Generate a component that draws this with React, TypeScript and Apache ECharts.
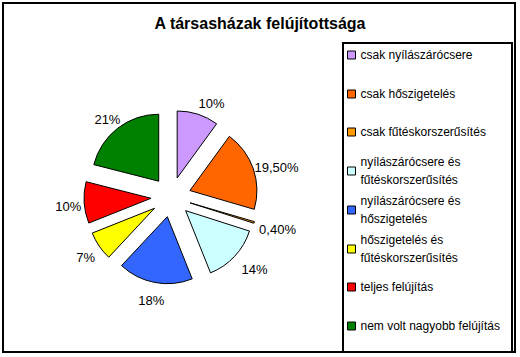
import React, { useEffect, useRef } from 'react';
import * as echarts from 'echarts';

const titleText = 'A társasházak felújítottsága';
const categories = [
  'csak nyílászárócsere',
  'csak hőszigetelés',
  'csak fűtéskorszerűsítés',
  'nyílászárócsere és\nfűtéskorszerűsítés',
  'nyílászárócsere és\nhőszigetelés',
  'hőszigetelés és\nfűtéskorszerűsítés',
  'teljes felújítás',
  'nem volt nagyobb felújítás',
];
const values = [10, 19.5, 0.4, 14, 18, 7, 10, 21];
const valueLabels = ['10%', '19,50%', '0,40%', '14%', '18%', '7%', '10%', '21%'];
const colors = ['#CC99FF', '#FF6600', '#FF9900', '#CCFFFF', '#3366FF', '#FFFF00', '#FF0000', '#008000'];

const FONT = '"Liberation Sans", Arial, sans-serif';

export default function App() {
  const ref = useRef<HTMLDivElement>(null);
  useEffect(() => {
    if (!ref.current) return;
    const chart = echarts.init(ref.current, undefined, { renderer: 'svg' });
    const legends = categories.map((name, i) => {
      const twoLine = name.includes('\n');
      const cy = 55 + i * 38.7;
      return {
        data: [{ name, textStyle: twoLine ? { padding: [18, 0, 0, 0] } : {} }],
        orient: 'vertical',
        left: 347,
        top: Math.round(cy - (twoLine ? 27 : 9)),
        padding: 0,
        itemWidth: 8,
        itemHeight: 8,
        icon: 'rect',
        selectedMode: false,
        textStyle: { fontSize: 12, lineHeight: 18, color: '#000', fontFamily: FONT },
        itemStyle: { borderColor: '#000', borderWidth: 1 },
      };
    });
    chart.setOption({
      animation: false,
      backgroundColor: '#fff',
      title: {
        text: titleText,
        left: 'center',
        top: 15,
        padding: 0,
        textStyle: { fontSize: 16, fontWeight: 'bold', color: '#000', fontFamily: FONT },
      },
      legend: legends,
      graphic: [
        { type: 'rect', shape: { x: 3, y: 3, width: 512, height: 349 }, style: { fill: 'none', stroke: '#000', lineWidth: 2 }, silent: true },
        { type: 'rect', shape: { x: 343, y: 43, width: 169, height: 309 }, style: { fill: 'none', stroke: '#000', lineWidth: 2 }, silent: true },
      ],
      series: [
        {
          type: 'pie',
          center: [171, 197],
          radius: 67,
          startAngle: 90,
          clockwise: true,
          selectedMode: 'multiple',
          selectedOffset: 20,
          avoidLabelOverlap: false,
          emphasis: { disabled: true },
          itemStyle: { borderColor: '#000', borderWidth: 1 },
          label: {
            show: true,
            position: 'outside',
            formatter: (p: any) => valueLabels[p.dataIndex],
            fontSize: 13,
            color: '#000',
            fontFamily: FONT,
          },
          labelLine: { show: false, length: 15, length2: 0 },
          labelLayout: { align: 'center', dx: 4, dy: 3 },
          data: values.map((v, i) => ({
            value: v,
            name: categories[i],
            selected: true,
            itemStyle: { color: colors[i] },
            select: { itemStyle: { color: colors[i], borderColor: '#000', borderWidth: 1 } },
          })),
        },
      ],
    });
    return () => chart.dispose();
  }, []);
  return (
    <div
      ref={ref}
      style={{ position: 'absolute', left: 0, top: 0, width: 520, height: 357, background: '#fff' }}
    />
  );
}
